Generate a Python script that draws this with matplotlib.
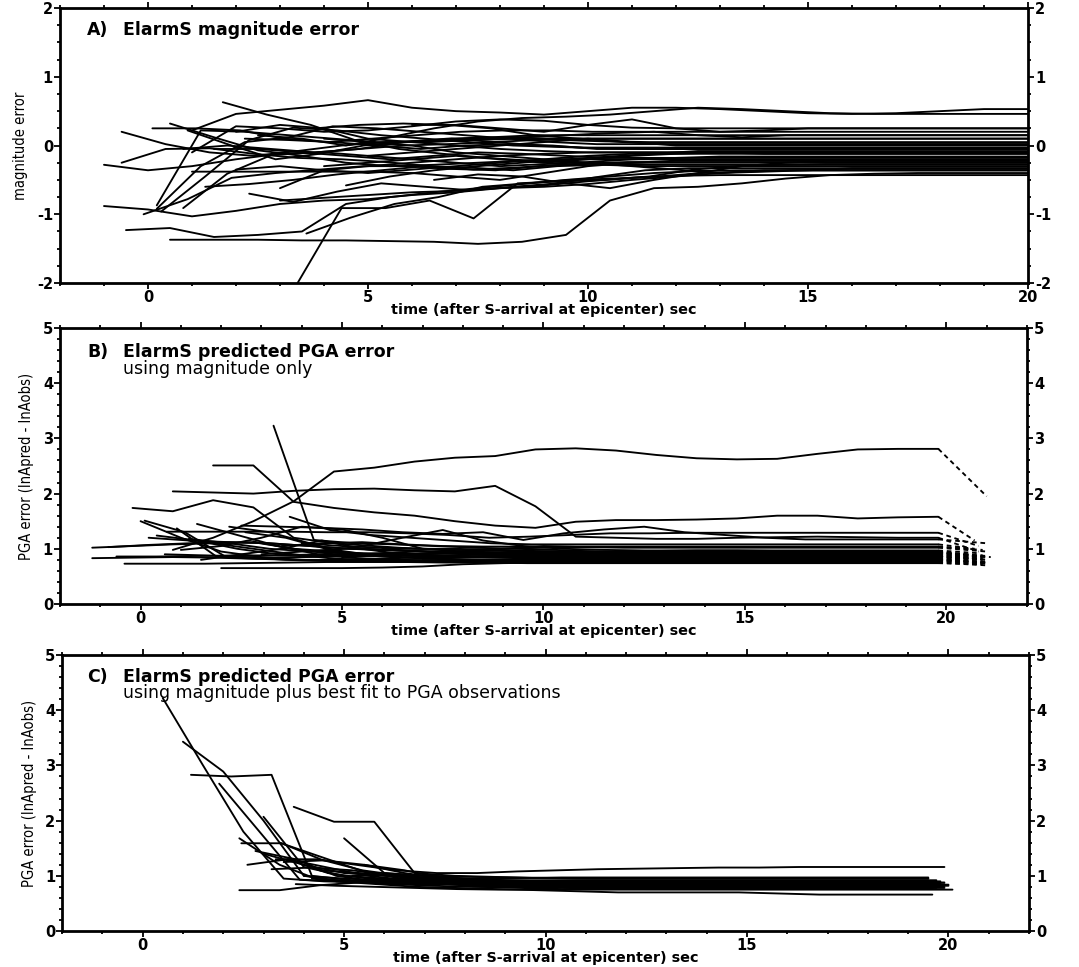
import numpy as np
import matplotlib
matplotlib.use("Agg")
import matplotlib.pyplot as plt
from matplotlib.ticker import MultipleLocator
from matplotlib import font_manager as fm

plt.rcParams["axes.unicode_minus"] = False

# ---------------- data ----------------
XLABEL = "time (after S-arrival at epicenter) sec"

A_TITLE = "ElarmS magnitude error"
A_YLABEL = "magnitude error"
A_END = 20.0
A_START = [-1.0, -0.6, -0.6, -1.0, -0.5, 0.5, 3.4, 0.1, 0.5, 1.7,
           1.0, 0.2, 0.3, -0.1, 0.8, 1.3, 2.3, 3.0, 3.6, 0.2,
           0.9, 1.0, 2.0, 2.5, 3.8, 1.5, 2.0, 1.0, 4.0, 3.0,
           5.0, 4.5, 6.0, 2.2, 6.5, 0.8, 4.0, 5.5]
A_VALUES = [
    [-0.28, -0.36, -0.3, -0.2, -0.12, -0.1, -0.15, -0.2, -0.25, -0.3, -0.27, -0.24, -0.2, -0.18, -0.16],
    [-0.25, -0.05, -0.04, -0.12, -0.18, -0.2, -0.24, -0.3, -0.35, -0.32, -0.28, -0.26, -0.25],
    [0.2, 0.02, -0.1, -0.15, -0.08, 0.0, 0.05, 0.05, 0.08, 0.1, 0.08, 0.06, 0.05],
    [-0.88, -0.93, -1.03, -0.95, -0.85, -0.8, -0.78, -0.72, -0.68, -0.62, -0.58, -0.52, -0.47, -0.44, -0.43],
    [-1.23, -1.2, -1.33, -1.3, -1.25, -0.85, -0.75, -0.68, -0.62, -0.56, -0.5, -0.45, -0.4, -0.37, -0.36],
    [-1.37, -1.37, -1.37, -1.38, -1.38, -1.39, -1.4, -1.43, -1.4, -1.3, -0.8, -0.62, -0.6, -0.55, -0.48, -0.43, -0.41, -0.4],
    [-2.0, -0.91, -0.91, -0.8, -1.06, -0.55, -0.52, -0.5, -0.45, -0.35, -0.3, -0.28, -0.27],
    [0.25, 0.25, 0.22, 0.1, 0.05, 0.1, 0.15, 0.2, 0.22, 0.22, 0.2, 0.2],
    [0.32, 0.12, -0.07, -0.15, -0.25, -0.3, -0.28, -0.25, -0.22, -0.2, -0.2],
    [0.63, 0.45, 0.3, 0.08, -0.05, -0.12, -0.18, -0.22, -0.25, -0.28, -0.28],
    [0.22, 0.46, 0.52, 0.58, 0.66, 0.55, 0.5, 0.48, 0.45, 0.5, 0.55, 0.55, 0.53, 0.5, 0.47, 0.46, 0.47, 0.5, 0.53, 0.53],
    [-0.87, 0.22, 0.2, 0.15, 0.1, 0.05, 0.05, 0.1, 0.12, 0.1, 0.1, 0.1],
    [-0.96, -0.45, 0.08, 0.26, 0.22, 0.15, 0.1, 0.05, 0.0, -0.02, -0.04, -0.05],
    [-1.0, -0.78, -0.47, -0.4, -0.35, -0.3, -0.3, -0.34, -0.36, -0.3, -0.26, -0.24],
    [-0.91, -0.41, -0.14, -0.1, -0.05, 0.05, 0.1, 0.12, 0.15, 0.15, 0.15],
    [-0.6, -0.56, -0.5, -0.42, -0.36, -0.3, -0.32, -0.36, -0.3, -0.28, -0.3],
    [-0.7, -0.82, -0.67, -0.55, -0.6, -0.65, -0.6, -0.55, -0.45, -0.36, -0.33],
    [-0.62, -0.36, -0.3, -0.25, -0.2, -0.15, -0.12, -0.1, -0.1],
    [-1.28, -1.05, -0.85, -0.75, -0.6, -0.55, -0.5, -0.48, -0.45, -0.4, -0.38, -0.36],
    [-0.92, -0.3, 0.05, 0.12, 0.28, 0.25, 0.2, 0.15, 0.1, 0.05, 0.02],
    [0.22, 0.0, -0.2, -0.12, 0.0, 0.05, 0.1, 0.05, 0.0, -0.03],
    [-0.1, 0.28, 0.25, 0.2, 0.22, 0.28, 0.35, 0.38, 0.36, 0.3, 0.26, 0.25],
    [0.2, 0.3, 0.25, 0.1, 0.05, 0.0, -0.05, -0.08, -0.1],
    [0.15, 0.1, 0.0, 0.12, 0.25, 0.35, 0.4, 0.42, 0.45, 0.5, 0.55, 0.53, 0.5, 0.47, 0.46, 0.46],
    [0.25, 0.3, 0.32, 0.3, 0.25, 0.15, 0.1, 0.05, 0.02],
    [-0.05, -0.05, -0.1, -0.15, -0.2, -0.15, -0.1, -0.12, -0.15, -0.18, -0.18],
    [-0.35, -0.3, -0.36, -0.4, -0.35, -0.3, -0.25, -0.2, -0.15, -0.12],
    [-0.38, -0.38, -0.38, -0.38, -0.38, -0.4, -0.45, -0.5, -0.4, -0.3, -0.25, -0.22, -0.22],
    [0.1, 0.05, 0.0, -0.1, -0.15, -0.2, -0.25, -0.3, -0.35, -0.4, -0.38, -0.36, -0.33],
    [-0.8, -0.76, -0.72, -0.68, -0.66, -0.62, -0.6, -0.56, -0.5, -0.45, -0.4, -0.36],
    [-0.15, -0.1, -0.05, 0.0, 0.05, 0.1, 0.05, 0.0, 0.0],
    [-0.58, -0.45, -0.36, -0.3, -0.25, -0.2, -0.16, -0.12, -0.08, -0.08],
    [0.3, 0.3, 0.25, 0.2, 0.3, 0.38, 0.25, 0.2, 0.22, 0.25],
    [0.1, 0.08, 0.05, 0.0, -0.05, 0.0, 0.02, 0.0, -0.05, -0.05],
    [-0.5, -0.42, -0.45, -0.55, -0.62, -0.5, -0.4, -0.3, -0.25, -0.22],
    [-0.05, 0.0, -0.05, -0.1, -0.05, 0.0, 0.02, 0.05, 0.08, 0.1, 0.1],
    [-0.3, -0.25, -0.2, -0.15, -0.2, -0.25, -0.2, -0.15, -0.12, -0.1, -0.12],
    [0.05, 0.08, 0.1, 0.12, 0.15, 0.18, 0.2, 0.15, 0.12, 0.15],
]

B_TITLE = "ElarmS predicted PGA error"
B_SUBTITLE = "using magnitude only"
B_END = 19.8
B_START = [0.8, 0.8, -0.2, 1.8, 3.3, -1.2, -0.8, -0.4, 0.1, 0.9,
           0.4, 2.0, 0.65, 2.5, 3.7, 1.0, 2.8, 4.5, 1.5, 0.0,
           -1.2, 0.2, 2.2, 1.2, 3.0, 4.0, 5.0, 6.0, 0.6, 1.8,
           2.6, 3.5, 7.0, 5.5, -0.6, 1.4]
B_VALUES = [
    [0.98, 1.2, 1.5, 1.86, 2.4, 2.47, 2.58, 2.65, 2.68, 2.8, 2.82, 2.78, 2.7, 2.64, 2.62, 2.63, 2.72, 2.8, 2.81, 2.81],
    [2.04, 2.02, 2.0, 2.05, 2.08, 2.09, 2.06, 2.04, 2.14, 1.77, 1.22, 1.2, 1.18, 1.18, 1.2, 1.21, 1.22, 1.21, 1.2, 1.2],
    [1.74, 1.68, 1.88, 1.75, 1.2, 1.1, 1.05, 1.0, 1.0, 0.98, 0.96, 0.95, 0.95, 0.96, 0.97, 0.97, 0.96, 0.95, 0.95, 0.95, 0.95],
    [2.51, 2.51, 1.85, 1.74, 1.66, 1.6, 1.5, 1.42, 1.38, 1.49, 1.52, 1.52, 1.53, 1.55, 1.6, 1.6, 1.55, 1.57, 1.58],
    [3.23, 1.16, 1.1, 1.08, 1.05, 1.02, 1.0, 0.98, 0.95, 0.93, 0.92, 0.92, 0.9, 0.9, 0.9, 0.9, 0.9],
    [0.83, 0.84, 0.85, 0.84, 0.82, 0.8, 0.8, 0.82, 0.84, 0.85, 0.85, 0.84, 0.83, 0.82, 0.82, 0.82],
    [1.03, 1.07, 1.1, 1.12, 1.1, 1.05, 1.0, 0.98, 0.95, 0.93, 0.92, 0.9, 0.9],
    [0.73, 0.73, 0.73, 0.74, 0.75, 0.76, 0.76, 0.76, 0.75, 0.75, 0.74, 0.74, 0.74],
    [1.51, 1.3, 0.86, 0.84, 0.85, 0.86, 0.88, 0.88, 0.87, 0.86],
    [1.37, 0.85, 0.82, 0.85, 0.9, 0.92, 0.95, 0.95, 0.93, 0.92],
    [1.24, 1.15, 1.0, 0.9, 0.88, 0.88, 0.9, 0.92, 0.9, 0.88],
    [0.65, 0.65, 0.65, 0.65, 0.66, 0.68, 0.72, 0.74, 0.75, 0.76, 0.76, 0.75],
    [1.31, 1.31, 1.31, 1.31, 1.3, 1.3, 1.28, 1.25, 1.2, 1.22, 1.25, 1.28, 1.28, 1.29, 1.29, 1.29, 1.29, 1.29, 1.29],
    [1.42, 1.4, 1.38, 1.35, 1.3, 1.27, 1.3, 1.16, 1.28, 1.35, 1.4, 1.3, 1.25, 1.2, 1.17, 1.17, 1.17, 1.17],
    [1.58, 1.34, 1.25, 1.2, 1.15, 1.1, 1.08, 1.08, 1.08, 1.08],
    [0.98, 1.05, 1.2, 1.4, 1.35, 1.2, 1.0, 0.95, 0.93, 0.92],
    [1.13, 1.0, 0.9, 0.88, 0.9, 0.92, 0.9, 0.88],
    [0.95, 1.05, 1.2, 1.34, 1.15, 1.05, 1.0, 0.98, 0.97, 0.97],
    [0.8, 0.9, 1.0, 1.15, 1.0, 0.9, 0.85, 0.84, 0.83],
    [1.5, 1.2, 0.95, 0.85, 0.8, 0.78, 0.78, 0.79, 0.8],
    [1.02, 1.05, 1.08, 1.1, 1.12, 1.0, 0.95, 0.9, 0.88, 0.85, 0.85],
    [1.2, 1.15, 1.12, 1.1, 1.05, 1.0, 0.97, 0.95, 0.94, 0.93],
    [1.4, 1.3, 1.1, 0.9, 0.85, 0.82, 0.8, 0.8],
    [1.18, 1.1, 1.0, 0.95, 0.92, 0.9, 0.88, 0.86, 0.85],
    [0.9, 0.95, 1.0, 1.02, 1.0, 0.98, 0.96, 0.95],
    [1.1, 1.05, 1.02, 1.0, 0.98, 1.0, 1.02, 1.03, 1.03],
    [0.85, 0.88, 0.9, 0.95, 1.0, 1.05, 1.03, 1.02],
    [1.0, 0.95, 0.9, 0.88, 0.86, 0.85],
    [0.9, 0.88, 0.85, 0.8, 0.78, 0.77, 0.77],
    [1.1, 1.0, 0.9, 0.82, 0.8, 0.79, 0.78],
    [1.3, 1.2, 1.0, 0.9, 0.87, 0.86],
    [1.05, 1.1, 1.12, 1.08, 1.05, 1.04, 1.04],
    [0.82, 0.85, 0.88, 0.9, 0.92, 0.93],
    [0.9, 0.85, 0.82, 0.8, 0.8, 0.81],
    [0.86, 0.86, 0.87, 0.88, 0.88, 0.9, 0.91, 0.91],
    [1.45, 1.25, 1.05, 0.9, 0.83, 0.8, 0.79],
]
B_TAIL = [1.95, 0.95, 0.85, 1.15, 0.8, 0.75, 0.85, 0.72, 0.8, 0.9,
          0.82, 0.7, 1.05, 1.1, 1.0, 0.88, 0.85, 0.92, 0.78, 0.74,
          0.8, 0.88, 0.76, 0.8, 0.9, 0.98, 0.95, 0.82, 0.72, 0.75,
          0.83, 1.0, 0.87, 0.77, 0.85, 0.73]
B_TAIL_END = [21.0, 20.8, 20.9, 20.7, 21.0, 20.9, 21.1, 20.8, 21.0, 20.6,
              20.9, 21.0, 20.8, 21.0, 20.7, 20.9, 21.0, 20.8, 20.6, 21.0,
              20.9, 20.7, 21.0, 20.8, 20.5, 20.9, 21.0, 20.7, 20.9, 21.0,
              20.8, 20.6, 21.0, 20.9, 20.7, 21.0]

C_TITLE = "ElarmS predicted PGA error"
C_SUBTITLE = "using magnitude plus best fit to PGA observations"
C_START = [0.5, 1.0, 1.2, 1.9, 3.0, 2.4, 2.45, 3.75, 5.0, 2.4,
           3.3, 2.6, 3.2, 3.5, 4.0, 4.4, 4.8, 5.5, 3.8, 3.0,
           4.2, 6.0, 5.2, 3.4, 4.6, 6.5, 2.8, 3.6]
C_VALUES = [
    [4.22, 3.0, 1.8, 0.95, 0.9, 0.88, 0.85, 0.85, 0.84, 0.83],
    [3.43, 2.89, 2.0, 1.0, 0.9, 0.92, 0.9, 0.88, 0.87],
    [2.83, 2.8, 2.83, 1.0, 0.92, 0.9, 0.88, 0.86, 0.85],
    [2.67, 1.8, 0.93, 0.9, 0.88, 0.86, 0.84, 0.82, 0.8],
    [2.07, 1.16, 1.0, 0.95, 0.92, 0.9, 0.88, 0.86],
    [1.68, 1.2, 0.92, 0.9, 0.88, 0.86, 0.8, 0.78, 0.76],
    [1.59, 1.59, 1.29, 1.1, 1.0, 0.95, 0.92, 0.9, 0.9],
    [2.25, 1.98, 1.98, 1.05, 1.0, 0.98, 0.96, 0.95, 0.95],
    [1.68, 1.05, 1.0, 0.95, 0.92, 0.9, 0.9],
    [0.74, 0.74, 0.83, 0.88, 0.9, 0.88, 0.86, 0.85],
    [1.3, 1.3, 1.2, 1.1, 1.05, 1.05, 1.08, 1.1, 1.12, 1.13, 1.14, 1.15, 1.15, 1.16, 1.16, 1.16, 1.16],
    [1.2, 1.3, 1.05, 0.95, 0.9, 0.88, 0.87],
    [1.12, 1.15, 1.1, 1.0, 0.93, 0.9, 0.88, 0.85],
    [1.25, 1.28, 1.2, 1.05, 0.95, 0.9, 0.87, 0.82],
    [1.0, 0.95, 0.92, 0.9, 0.88, 0.86, 0.84],
    [1.1, 1.05, 0.98, 0.95, 0.95, 0.96, 0.97, 0.97],
    [0.9, 0.85, 0.8, 0.78, 0.76, 0.74, 0.72, 0.7, 0.7, 0.7, 0.7, 0.68, 0.66, 0.66, 0.66],
    [1.2, 1.1, 0.95, 0.9, 0.85, 0.8, 0.78],
    [0.85, 0.82, 0.8, 0.78, 0.76, 0.75],
    [1.4, 1.2, 1.05, 1.0, 0.95, 0.93, 0.92],
    [0.95, 0.9, 0.85, 0.82, 0.8, 0.8],
    [1.05, 1.0, 0.95, 0.9, 0.88, 0.86],
    [1.0, 1.02, 1.0, 0.98, 0.97, 0.96, 0.95],
    [1.6, 1.35, 1.1, 0.95, 0.9, 0.88],
    [0.92, 0.9, 0.88, 0.86, 0.84, 0.83, 0.82],
    [0.95, 0.9, 0.85, 0.8, 0.78, 0.77, 0.76],
    [1.45, 1.3, 1.0, 0.9, 0.88, 0.86, 0.84],
    [1.3, 1.15, 1.0, 0.92, 0.9, 0.9],
]
C_END = [19.6, 19.5, 19.7, 19.9, 19.8, 19.6, 19.7, 19.5, 19.8, 19.9,
         19.9, 19.6, 19.7, 19.8, 20.0, 19.5, 19.6, 19.9, 20.1, 19.7,
         19.8, 19.6, 19.5, 19.9, 20.0, 19.7, 19.8, 19.6]

# ---------------- fonts ----------------
WIDE = "DejaVu Sans"
_cond = [f for f in fm.fontManager.ttflist
         if ("Narrow" in f.name or "Condensed" in f.name or str(f.stretch) in ("condensed", "semi-condensed", "extra-condensed"))
         and f.style == "normal" and f.weight in (400, "normal", "regular")]
if _cond:
    COND_FP = dict(fontproperties=fm.FontProperties(fname=_cond[0].fname, size=10.5))
else:
    COND_FP = dict(fontfamily=WIDE, fontsize=9.0)

fig = plt.figure(figsize=(10.79, 9.67), dpi=100)
ax_a = fig.add_axes([0.0556, 0.7073, 0.8971, 0.2844])
ax_b = fig.add_axes([0.0556, 0.3754, 0.8962, 0.2854])
ax_c = fig.add_axes([0.0575, 0.0372, 0.8962, 0.2854])

LW = 1.35


def trace(ax, t0, vals, t_end):
    t = t0 + np.arange(len(vals), dtype=float)
    v = np.asarray(vals, dtype=float)
    keep = t <= t_end + 1e-9
    t, v = t[keep], v[keep]
    if t[-1] < t_end:
        t = np.append(t, t_end)
        v = np.append(v, v[-1])
    ax.plot(t, v, color="black", lw=LW, solid_joinstyle="round", solid_capstyle="round")
    return t[-1], v[-1]


for t0, vals in zip(A_START, A_VALUES):
    trace(ax_a, t0, vals, A_END)

for t0, vals, tail, tend in zip(B_START, B_VALUES, B_TAIL, B_TAIL_END):
    te, ve = trace(ax_b, t0, vals, B_END)
    ax_b.plot([te, tend], [ve, tail], color="black", lw=LW, ls=(0, (2.5, 2.0)))

for t0, vals, te in zip(C_START, C_VALUES, C_END):
    trace(ax_c, t0, vals, te)


def style(ax, xlim, ylim, yminor, ylabel):
    ax.set_xlim(*xlim)
    ax.set_ylim(*ylim)
    ax.xaxis.set_major_locator(MultipleLocator(5))
    ax.xaxis.set_minor_locator(MultipleLocator(1))
    ax.yaxis.set_major_locator(MultipleLocator(1))
    ax.yaxis.set_minor_locator(MultipleLocator(yminor))
    for s in ax.spines.values():
        s.set_linewidth(2.0)
    ax.tick_params(which="both", direction="out", top=True, right=True,
                   labelleft=True, labelright=True, width=1.3)
    ax.tick_params(which="major", length=4, pad=1.0)
    ax.tick_params(which="minor", length=2.5)
    for lab in ax.get_xticklabels() + ax.get_yticklabels():
        lab.set_fontfamily(WIDE)
        lab.set_fontweight("bold")
        lab.set_fontsize(10.5)
    ax.set_xlabel(XLABEL, fontfamily=WIDE, fontweight="bold", fontsize=10.4, labelpad=-1.5)
    ax.set_ylabel(ylabel, labelpad=6, **COND_FP)


style(ax_a, (-2, 20), (-2, 2), 0.25, A_YLABEL)
style(ax_b, (-2, 22), (0, 5), 0.2, "PGA error (lnApred - lnAobs)")
style(ax_c, (-2, 22), (0, 5), 0.2, "PGA error (lnApred - lnAobs)")

TFS = 12.5
ax_a.text(0.028, 0.92, "A)", transform=ax_a.transAxes, fontweight="bold", fontsize=TFS, family=WIDE, va="center")
ax_a.text(0.065, 0.92, A_TITLE, transform=ax_a.transAxes, fontweight="bold", fontsize=TFS, family=WIDE, va="center")
ax_b.text(0.028, 0.913, "B)", transform=ax_b.transAxes, fontweight="bold", fontsize=TFS, family=WIDE, va="center")
ax_b.text(0.065, 0.913, B_TITLE, transform=ax_b.transAxes, fontweight="bold", fontsize=TFS, family=WIDE, va="center")
ax_b.text(0.065, 0.85, B_SUBTITLE, transform=ax_b.transAxes, fontsize=TFS, family=WIDE, va="center")
ax_c.text(0.026, 0.92, "C)", transform=ax_c.transAxes, fontweight="bold", fontsize=TFS, family=WIDE, va="center")
ax_c.text(0.063, 0.92, C_TITLE, transform=ax_c.transAxes, fontweight="bold", fontsize=TFS, family=WIDE, va="center")
ax_c.text(0.063, 0.862, C_SUBTITLE, transform=ax_c.transAxes, fontsize=TFS, family=WIDE, va="center")

fig.savefig("out.png", dpi=100, facecolor="white")
